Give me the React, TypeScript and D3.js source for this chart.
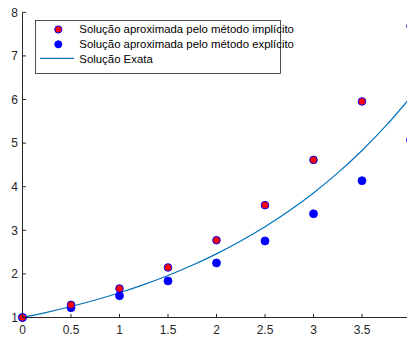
import React from "react";
import * as d3 from "d3";

// Numerical solutions at the step points (h = 0.5)
const stepX = [0, 0.5, 1, 1.5, 2, 2.5, 3, 3.5, 4];
const implicitY = [1, 1.29, 1.665, 2.148, 2.772, 3.577, 4.615, 5.955, 7.68];
const explicitY = [1, 1.225, 1.5, 1.838, 2.251, 2.757, 3.378, 4.138, 5.069];

// Exact solution sampled on a finer grid
const exactX = [0, 0.25, 0.5, 0.75, 1, 1.25, 1.5, 1.75, 2, 2.25, 2.5, 2.75, 3, 3.25, 3.5, 3.75, 4];
const exactY = [1, 1.119, 1.252, 1.401, 1.568, 1.755, 1.964, 2.198, 2.46, 2.753, 3.08, 3.447, 3.857, 4.316, 4.831, 5.405, 6.05];

const xTicks = [0, 0.5, 1, 1.5, 2, 2.5, 3, 3.5, 4];
const yTicks = [1, 2, 3, 4, 5, 6, 7, 8];

const legendLabels = [
  "Solução aproximada pelo método implícito",
  "Solução aproximada pelo método explícito",
  "Solução Exata",
];

const W = 407;
const H = 337;
const axisColor = "#262626";
const lineColor = "#0072BD";
const font = "'Liberation Sans', Arial, Helvetica, sans-serif";

export default function App() {
  const x = d3.scaleLinear().domain([0, 4]).range([22.5, 410.5]);
  const y = d3.scaleLinear().domain([1, 8]).range([317.5, 12.3]);

  const exactPts: [number, number][] = exactX.map((v, i) => [v, exactY[i]]);
  const line = d3
    .line<[number, number]>()
    .x((d) => x(d[0]))
    .y((d) => y(d[1]))
    .curve(d3.curveCatmullRom);

  const x0 = x(0);
  const y0 = y(1);
  const tickLen = 3.5;

  return (
    <svg
      width={W}
      height={H}
      style={{ position: "absolute", left: 0, top: 0, background: "#fff" }}
      fontFamily={font}
    >
      <rect width={W} height={H} fill="#fff" />
      {/* exact solution */}
      <path d={line(exactPts) ?? ""} fill="none" stroke={lineColor} strokeWidth={1.2} />
      {/* explicit method */}
      {stepX.map((v, i) => (
        <circle key={"e" + i} cx={x(v)} cy={y(explicitY[i])} r={4} fill="#0000ff" stroke="#0000ff" strokeWidth={0.8} />
      ))}
      {/* implicit method */}
      {stepX.map((v, i) => (
        <circle key={"i" + i} cx={x(v)} cy={y(implicitY[i])} r={3.8} fill="#ff0000" stroke="#0000ff" strokeWidth={1} />
      ))}

      {/* axes */}
      <line x1={x0} x2={x0} y1={y(8)} y2={y0} stroke={axisColor} strokeWidth={1} />
      <line x1={x0} x2={W + 5} y1={y0} y2={y0} stroke={axisColor} strokeWidth={1} />
      {yTicks.map((t) => (
        <g key={"yt" + t}>
          <line x1={x0} x2={x0 + tickLen} y1={y(t)} y2={y(t)} stroke={axisColor} strokeWidth={1} />
          <text x={x0 - 4.5} y={y(t)} dy="0.35em" textAnchor="end" fontSize={12} fill={axisColor}>
            {t}
          </text>
        </g>
      ))}
      {xTicks.map((t) => (
        <g key={"xt" + t}>
          <line x1={x(t)} x2={x(t)} y1={y0} y2={y0 - tickLen} stroke={axisColor} strokeWidth={1} />
          <text x={x(t)} y={y0 + 16} textAnchor="middle" fontSize={12} fill={axisColor}>
            {t}
          </text>
        </g>
      ))}

      {/* legend */}
      <rect x={35.5} y={20.5} width={245} height={53} fill="#fff" stroke={axisColor} strokeWidth={0.8} />
      <circle cx={58.3} cy={29.5} r={3.6} fill="#ff0000" stroke="#0000ff" strokeWidth={1} />
      <circle cx={58.3} cy={44.3} r={3.6} fill="#0000ff" stroke="#0000ff" strokeWidth={0.8} />
      <line x1={40} x2={74} y1={58.3} y2={58.3} stroke={lineColor} strokeWidth={1.2} />
      {legendLabels.map((s, i) => (
        <text key={s} x={79.3} y={[29.5, 44.3, 58.8][i]} dy="0.35em" fontSize={11.4} fill="#000">
          {s}
        </text>
      ))}
    </svg>
  );
}
